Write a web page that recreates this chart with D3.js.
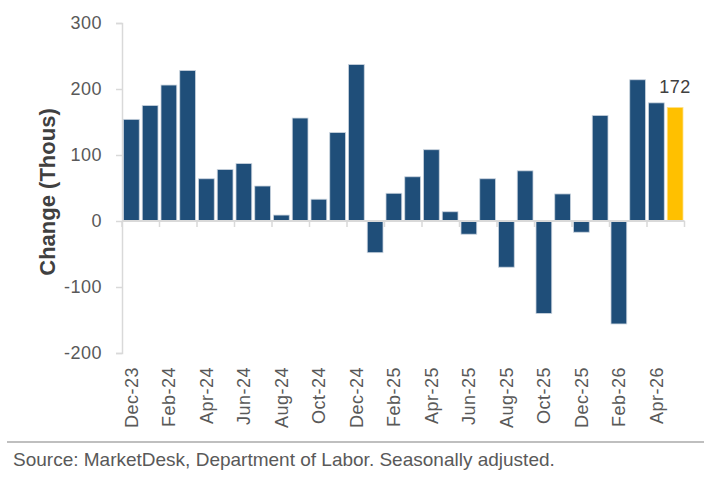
<!DOCTYPE html>
<html><head><meta charset="utf-8">
<script src="https://cdn.jsdelivr.net/npm/d3@7"></script>
<style>body{margin:0;background:#fff;} svg{display:block;font-family:"Liberation Sans",Arial,sans-serif;}</style>
</head><body>
<svg id="c" width="717" height="479"></svg>
<script>
const months = ["Dec-23","Jan-24","Feb-24","Mar-24","Apr-24","May-24","Jun-24","Jul-24","Aug-24","Sep-24","Oct-24","Nov-24","Dec-24","Jan-25","Feb-25","Mar-25","Apr-25","May-25","Jun-25","Jul-25","Aug-25","Sep-25","Oct-25","Nov-25","Dec-25","Jan-26","Feb-26","Mar-26","Apr-26","May-26"];
const values = [154,175,206,228,64,78,87,53,9,156,33,134,237,-48,42,67,108,14,-20,64,-70,76,-140,41,-17,160,-156,214,179,172];
const yTicks = [-200,-100,0,100,200,300];
const highlightLabel = "172";

const svg = d3.select("#c");
const pL = 122, pR = 684.5, pT = 23, pB = 353;
const x = d3.scaleBand().domain(months).range([pL, pR]).paddingInner(0.16).paddingOuter(0.08);
const y = d3.scaleLinear().domain([-200, 300]).range([pB, pT]);

// y axis
const yAxis = svg.append("g").attr("transform", `translate(${pL},0)`)
  .call(d3.axisLeft(y).tickValues(yTicks).tickFormat(d => String(d)).tickSize(6).tickPadding(14));
yAxis.select(".domain").attr("stroke", "#d9d9d9").attr("stroke-width", 1.5);
yAxis.selectAll(".tick line").attr("stroke", "#d9d9d9").attr("stroke-width", 1.5);
yAxis.selectAll(".tick text").attr("fill", "#595959").style("font-size", "18px")
  .style("letter-spacing", "0.5px").style("font-family", "Liberation Sans, Arial, sans-serif");

// bars
svg.append("g").selectAll("rect").data(values).join("rect")
  .attr("x", (d, i) => x(months[i]))
  .attr("width", x.bandwidth())
  .attr("y", d => y(Math.max(0, d)))
  .attr("height", d => Math.abs(y(d) - y(0)))
  .attr("fill", (d, i) => i === values.length - 1 ? "#ffc000" : "#1f4e79")
  .attr("stroke", (d, i) => i === values.length - 1 ? "#ffe08a" : "#c9d3de")
  .attr("stroke-width", 0.8);

// x axis line at zero
svg.append("line").attr("x1", pL).attr("x2", pR).attr("y1", y(0)).attr("y2", y(0))
  .attr("stroke", "#d9d9d9").attr("stroke-width", 2);
// ticks at every other band boundary
const bounds = d3.range(0, months.length + 1, 2).map(i => pL + i * (pR - pL) / months.length);
svg.append("g").selectAll("line").data(bounds).join("line")
  .attr("x1", d => d).attr("x2", d => d).attr("y1", y(0)).attr("y2", y(0) + 6)
  .attr("stroke", "#d9d9d9").attr("stroke-width", 1.5);

// x labels
svg.append("g").selectAll("text").data(months.filter((m, i) => i % 2 === 0)).join("text")
  .attr("transform", d => `translate(${x(d) + x.bandwidth() / 2},367) rotate(-90)`)
  .attr("text-anchor", "end").attr("dy", "0.35em")
  .attr("fill", "#595959").style("font-size", "18px").style("letter-spacing", "0.5px")
  .text(d => d);

// value label
const last = months[months.length - 1];
svg.append("text").attr("x", x(last) + x.bandwidth() / 2).attr("y", y(values[values.length - 1]) - 14)
  .attr("text-anchor", "middle").attr("fill", "#404040").style("font-size", "18px").style("letter-spacing", "0.5px")
  .text(highlightLabel);

// y title
svg.append("text").attr("transform", "translate(55,192) rotate(-90)")
  .attr("text-anchor", "middle").attr("fill", "#404040").style("font-size", "22px").style("font-weight", "bold")
  .text("Change (Thous)");

// footer
svg.append("line").attr("x1", 7).attr("x2", 704).attr("y1", 442).attr("y2", 442)
  .attr("stroke", "#bfbfbf").attr("stroke-width", 2);
svg.append("text").attr("x", 13).attr("y", 466).attr("fill", "#595959").style("font-size", "19px")
  .text("Source: MarketDesk, Department of Labor. Seasonally adjusted.");
</script>
</body></html>
